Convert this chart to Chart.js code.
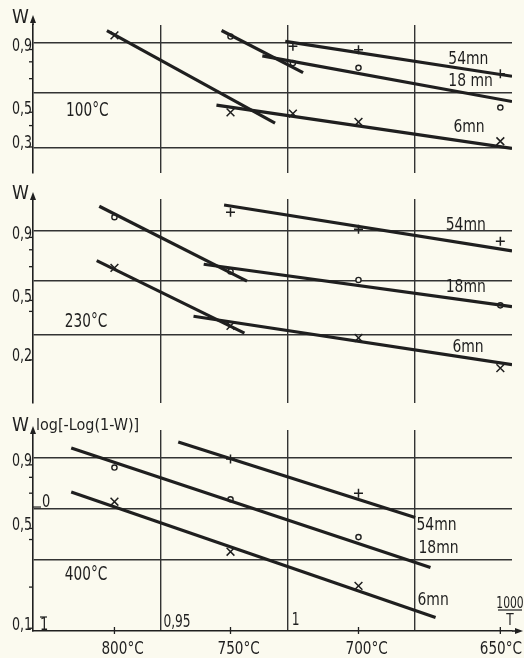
<!DOCTYPE html>
<html>
<head>
<meta charset="utf-8">
<script src="https://cdn.jsdelivr.net/npm/chart.js@4.4.1/dist/chart.umd.min.js"></script>
<style>
  html, body { margin: 0; padding: 0; background: #fbfaef; }
  #wrap { position: relative; width: 524px; height: 658px; overflow: hidden; }
  canvas { position: absolute; left: 0; }
</style>
</head>
<body>
<div id="wrap">
  <canvas id="c1" width="524" height="180" style="top:0"></canvas>
  <canvas id="c2" width="524" height="230" style="top:180px"></canvas>
  <canvas id="c3" width="524" height="248" style="top:410px"></canvas>
</div>
<script>
// x axis: 1000/T, y axis: log[-Log(1-W)]
const gridX = [0.95, 1.0, 1.05];
const tempTicks = [800, 750, 700, 650];
const tempLabels = ['800', '750', '700', '650'];

// 100°C
const t100_54 = [725, 700, 650];
const v100_54 = [0.39, 0.36, 0.16];
const t100_18 = [750, 725, 700, 650];
const v100_18 = [0.47, 0.25, 0.21, -0.12];
const t100_6 = [800, 750, 725, 700, 650];
const v100_6 = [0.48, -0.16, -0.17, -0.24, -0.40];
const fit100_54 = [[0.999, 0.43], [1.088, 0.14]];
const fit100_18a = [[0.974, 0.52], [1.006, 0.17]];
const fit100_18b = [[0.990, 0.31], [1.088, -0.07]];
const fit100_6a = [[0.929, 0.52], [0.995, -0.25]];
const fit100_6b = [[0.972, -0.10], [1.088, -0.46]];

// 230°C
const t230_54 = [750, 700, 650];
const v230_54 = [0.57, 0.43, 0.33];
const t230_18 = [800, 750, 700, 650];
const v230_18 = [0.53, 0.08, 0.01, -0.20];
const t230_6 = [800, 750, 700, 650];
const v230_6 = [0.11, -0.37, -0.47, -0.72];
const fit230_54 = [[0.975, 0.63], [1.088, 0.25]];
const fit230_18a = [[0.926, 0.62], [0.984, 0.0]];
const fit230_18b = [[0.967, 0.14], [1.088, -0.21]];
const fit230_6a = [[0.925, 0.17], [0.983, -0.43]];
const fit230_6b = [[0.963, -0.29], [1.088, -0.69]];

// 400°C
const t400_54 = [750, 700];
const v400_54 = [0.41, 0.13];
const t400_18 = [800, 750, 700];
const v400_18 = [0.34, 0.08, -0.23];
const t400_6 = [800, 750, 700];
const v400_6 = [0.06, -0.35, -0.63];
const fit400_54 = [[0.957, 0.55], [1.050, -0.07]];
const fit400_18 = [[0.915, 0.50], [1.056, -0.48]];
const fit400_6 = [[0.915, 0.14], [1.058, -0.89]];

// W tick labels and extra ticks on the W axis
const w100 = [0.9, 0.5, 0.3];
const w230 = [0.9, 0.5, 0.2];
const w400 = [0.9, 0.5, 0.1];
const ticks100 = [0.26, 0.12, -0.27];
const ticks230 = [0.26, 0.12, -0.25];
const ticks400 = [0.26, 0.13, -0.25, -0.64];
const grid100 = [0.418, 0, -0.451];
const grid230 = [0.418, 0, -0.443];
const grid400 = [0.418, 0, -0.418];

const BG = '#fbfaef';
const INK = '#1f1f1f';
const GRID = '#333333';
const FAM = '"DejaVu Sans Condensed", "Liberation Sans Narrow", "Roboto Condensed", sans-serif';

const wPos = w => Math.log10(-Math.log(1 - w));
const invT = t => 1000 / (t + 273);

const PLUS = { pointStyle: 'cross', pointRadius: 4.5, pointBorderWidth: 1.5 };
const CIRC = { pointStyle: 'circle', pointRadius: 2.6, pointBorderWidth: 1.4 };
const CROSS = { pointStyle: 'crossRot', pointRadius: 5.5, pointBorderWidth: 1.5 };

function marks(temps, vals, style) {
  return Object.assign({
    data: temps.map((t, i) => ({ x: invT(t), y: vals[i] })),
    showLine: false,
    pointBorderColor: INK,
    pointBackgroundColor: BG
  }, style);
}

function fit(seg) {
  return {
    data: seg.map(p => ({ x: p[0], y: p[1] })),
    showLine: true,
    borderColor: INK,
    borderWidth: 3.2,
    pointRadius: 0
  };
}

// narrow, tall lettering like the drawing's stencil font
function text(ctx, str, x, y, size, align, sx) {
  ctx.save();
  ctx.font = size + 'px ' + FAM;
  ctx.textAlign = align || 'left';
  ctx.textBaseline = 'alphabetic';
  ctx.translate(x, y);
  ctx.scale(sx || 0.82, 1);
  ctx.fillText(str, 0, 0);
  ctx.restore();
}

function textWidth(ctx, str, size, sx) {
  ctx.save();
  ctx.font = size + 'px ' + FAM;
  const w = ctx.measureText(str).width * sx;
  ctx.restore();
  return w;
}

const panels = {
  c1: {
    top: 25, bottom: 5, min: -0.664, max: 0.566, grid: grid100,
    wLabels: w100, ticks: ticks100, arrowTop: 15, wBase: 23,
    title: ['100°C', 0.913, -0.19],
    names: [['54mn', 1.063, 0.24], ['18 mn', 1.063, 0.06], ['6mn', 1.065, -0.32]],
    datasets: [fit(fit100_54), fit(fit100_18a), fit(fit100_18b), fit(fit100_6a), fit(fit100_6b),
      marks(t100_54, v100_54, PLUS), marks(t100_18, v100_18, CIRC), marks(t100_6, v100_6, CROSS)]
  },
  c2: {
    top: 19, bottom: 5, min: -1.008, max: 0.680, grid: grid230,
    wLabels: w230, ticks: ticks230, arrowTop: 12, wBase: 19,
    title: ['230°C', 0.9125, -0.377],
    names: [['54mn', 1.062, 0.426], ['18mn', 1.062, -0.09], ['6mn', 1.0646, -0.582]],
    datasets: [fit(fit230_54), fit(fit230_18a), fit(fit230_18b), fit(fit230_6a), fit(fit230_6b),
      marks(t230_54, v230_54, PLUS), marks(t230_18, v230_18, CIRC), marks(t230_6, v230_6, CROSS)]
  },
  c3: {
    top: 20, bottom: 27, min: -1.0, max: 0.648, grid: grid400,
    wLabels: w400, ticks: ticks400, arrowTop: 16, wBase: 21,
    title: ['400°C', 0.9125, -0.582], xAxis: true,
    names: [['54mn', 1.0505, -0.172], ['18mn', 1.0513, -0.361], ['6mn', 1.0509, -0.787]],
    datasets: [fit(fit400_54), fit(fit400_18), fit(fit400_6),
      marks(t400_54, v400_54, PLUS), marks(t400_18, v400_18, CIRC), marks(t400_6, v400_6, CROSS)]
  }
};

const decor = {
  id: 'decor',
  afterDraw(chart) {
    const p = panels[chart.canvas.id];
    const { ctx, chartArea: a } = chart;
    const x = chart.scales.x, y = chart.scales.y;
    ctx.save();
    ctx.strokeStyle = INK;
    ctx.fillStyle = INK;

    // arrow on the W axis
    ctx.lineWidth = 1.6;
    ctx.beginPath();
    ctx.moveTo(a.left, a.top);
    ctx.lineTo(a.left, p.arrowTop + 4);
    ctx.stroke();
    ctx.beginPath();
    ctx.moveTo(a.left, p.arrowTop);
    ctx.lineTo(a.left - 3, p.arrowTop + 8);
    ctx.lineTo(a.left + 3, p.arrowTop + 8);
    ctx.closePath();
    ctx.fill();

    text(ctx, 'W', 12, p.wBase, 19, 'left', 1);

    // W labels, sitting on their tick
    p.wLabels.forEach(w => {
      const py = y.getPixelForValue(wPos(w));
      text(ctx, String(w).replace('.', ','), a.left - 1, py + 1.5, 18, 'right', 0.78);
    });
    ctx.lineWidth = 1.3;
    p.ticks.concat(p.wLabels.map(wPos)).forEach(v => {
      const py = y.getPixelForValue(v);
      ctx.beginPath();
      ctx.moveTo(a.left - 4, py);
      ctx.lineTo(a.left, py);
      ctx.stroke();
    });

    // panel title and curve names
    text(ctx, p.title[0], x.getPixelForValue(p.title[1]), y.getPixelForValue(p.title[2]), 19, 'left', 0.8);
    p.names.forEach(n => text(ctx, n[0], x.getPixelForValue(n[1]), y.getPixelForValue(n[2]), 18, 'left', 0.86));

    if (p.xAxis) {
      // x axis arrow
      ctx.lineWidth = 1.6;
      ctx.beginPath();
      ctx.moveTo(a.right, a.bottom);
      ctx.lineTo(a.right + 6, a.bottom);
      ctx.stroke();
      ctx.beginPath();
      ctx.moveTo(a.right + 11, a.bottom);
      ctx.lineTo(a.right + 3, a.bottom - 3);
      ctx.lineTo(a.right + 3, a.bottom + 3);
      ctx.closePath();
      ctx.fill();

      // temperature scale: the number is centred on its tick, °C trails it
      tempTicks.forEach((t, i) => {
        const px = x.getPixelForValue(invT(t));
        ctx.lineWidth = 1.3;
        ctx.beginPath();
        ctx.moveTo(px, a.bottom - 4);
        ctx.lineTo(px, a.bottom + 3);
        ctx.stroke();
        const label = tempLabels[i] + '°C';
        const full = textWidth(ctx, label, 18, 0.84);
        let left = px - textWidth(ctx, tempLabels[i], 18, 0.84) / 2;
        left = Math.min(left, chart.width - 2 - full);
        text(ctx, label, left, a.bottom + 23, 18, 'left', 0.84);
      });

      // 1000/T values on the gridlines
      text(ctx, '0,95', x.getPixelForValue(gridX[0]) + 3, a.bottom - 4, 17, 'left', 0.8);
      text(ctx, '1', x.getPixelForValue(gridX[1]) + 4, a.bottom - 6, 17, 'left', 0.8);

      const fx = a.right - 2;
      text(ctx, '1000', fx, a.bottom - 23, 15, 'center', 0.8);
      ctx.lineWidth = 1.2;
      ctx.beginPath();
      ctx.moveTo(fx - 12, a.bottom - 21);
      ctx.lineTo(fx + 12, a.bottom - 21);
      ctx.stroke();
      text(ctx, 'T', fx, a.bottom - 6, 15, 'center', 0.9);

      // log scale marks 0 and -1
      const p0 = y.getPixelForValue(0);
      text(ctx, '0', a.left + 9, p0 - 2, 17, 'left', 0.85);
      ctx.beginPath();
      ctx.moveTo(a.left, p0 - 2);
      ctx.lineTo(a.left + 8, p0 - 2);
      ctx.stroke();
      const p1 = y.getPixelForValue(-1);
      text(ctx, '1', a.left + 7, p1 - 1, 17, 'left', 0.85);
      ctx.beginPath();
      ctx.moveTo(a.left + 7, p1 - 14);
      ctx.lineTo(a.left + 14, p1 - 14);
      ctx.stroke();

      text(ctx, 'log[-Log(1-W)]', a.left + 3, p.wBase - 1, 16, 'left', 1.0);
    }
    ctx.restore();
  }
};

function makePanel(id) {
  const p = panels[id];
  return new Chart(document.getElementById(id), {
    type: 'scatter',
    data: { datasets: p.datasets },
    options: {
      responsive: false,
      animation: false,
      layout: { padding: { left: 33, right: 12, top: p.top, bottom: p.bottom } },
      plugins: { legend: { display: false }, tooltip: { enabled: false } },
      scales: {
        x: {
          type: 'linear', min: 0.9, max: 1.088,
          afterBuildTicks: s => { s.ticks = gridX.map(v => ({ value: v })); },
          ticks: { display: false },
          grid: { color: GRID, lineWidth: 1.4, drawTicks: false },
          border: { display: !!p.xAxis, color: INK, width: 1.6 }
        },
        y: {
          type: 'linear', min: p.min, max: p.max,
          afterBuildTicks: s => { s.ticks = p.grid.map(v => ({ value: v })); },
          ticks: { display: false },
          grid: { color: GRID, lineWidth: 1.4, drawTicks: false },
          border: { display: true, color: INK, width: 1.6 }
        }
      }
    },
    plugins: [decor]
  });
}

makePanel('c1');
makePanel('c2');
makePanel('c3');
</script>
</body>
</html>
